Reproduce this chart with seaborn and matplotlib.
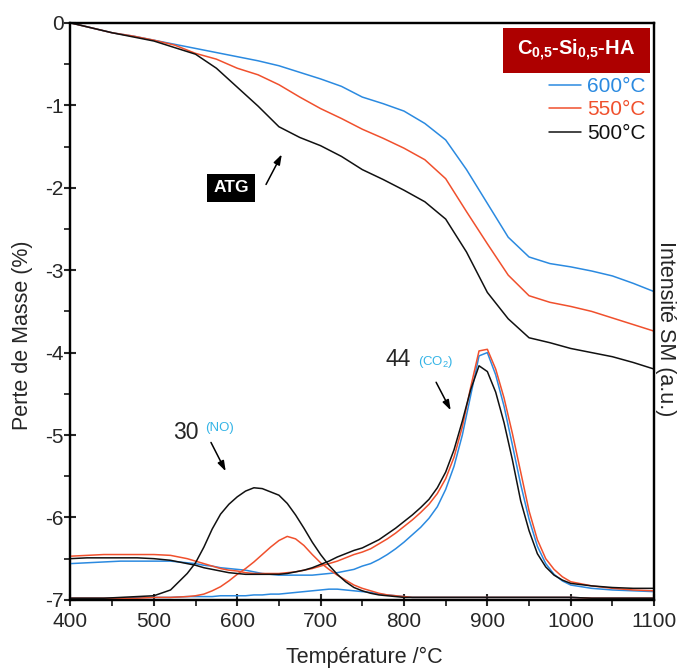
import numpy as np
import pandas as pd
import matplotlib
matplotlib.use("Agg")
import matplotlib.pyplot as plt
import seaborn as sns
from matplotlib.patches import Rectangle
from matplotlib.ticker import MultipleLocator

# data section
tga_temps = list(range(400, 1101, 25))
tga_600 = [0, -0.06, -0.12, -0.16, -0.21, -0.26, -0.31, -0.36, -0.41, -0.46, -0.52, -0.60, -0.68, -0.77,
           -0.90, -0.98, -1.07, -1.22, -1.42, -1.78, -2.19, -2.60, -2.84, -2.92, -2.96, -3.01, -3.07, -3.16, -3.26]
tga_550 = [0, -0.06, -0.12, -0.16, -0.21, -0.27, -0.37, -0.44, -0.55, -0.63, -0.75, -0.90, -1.04, -1.16,
           -1.29, -1.40, -1.52, -1.66, -1.89, -2.29, -2.68, -3.06, -3.31, -3.39, -3.44, -3.50, -3.58, -3.66, -3.74]
tga_500 = [0, -0.06, -0.12, -0.17, -0.22, -0.30, -0.38, -0.55, -0.78, -1.01, -1.26, -1.39, -1.49, -1.62,
           -1.78, -1.90, -2.03, -2.17, -2.38, -2.78, -3.27, -3.59, -3.82, -3.88, -3.95, -4.00, -4.05, -4.12, -4.20]

ms_temps = [400, 420, 440, 460, 480, 500, 520, 540] + list(range(550, 1001, 10)) + [1025, 1050, 1075, 1100]

# m/z 30 (NO), arbitrary units
no_500 = [0.02, 0.02, 0.02, 0.03, 0.04, 0.05, 0.12, 0.32,
          0.45, 0.64, 0.86, 1.04, 1.16, 1.25, 1.32, 1.36, 1.35, 1.31, 1.27, 1.17, 1.03, 0.87, 0.70, 0.55,
          0.42, 0.31, 0.22, 0.15, 0.11, 0.08, 0.06, 0.05, 0.04, 0.03,
          0.03, 0.03, 0.03, 0.03, 0.03, 0.03, 0.03, 0.03, 0.03, 0.03,
          0.03, 0.03, 0.03, 0.03, 0.03, 0.03, 0.03, 0.03, 0.03, 0.03,
          0.02, 0.02, 0.02, 0.02]
no_550 = [0.02, 0.02, 0.02, 0.02, 0.02, 0.03, 0.03, 0.04,
          0.05, 0.07, 0.11, 0.16, 0.23, 0.31, 0.38, 0.46, 0.55, 0.64, 0.72, 0.77, 0.74, 0.66, 0.55, 0.45,
          0.37, 0.30, 0.24, 0.18, 0.14, 0.11, 0.08, 0.06, 0.05, 0.04,
          0.03, 0.03, 0.03, 0.03, 0.03, 0.03, 0.03, 0.03, 0.03, 0.03,
          0.03, 0.03, 0.03, 0.03, 0.03, 0.03, 0.03, 0.03, 0.03, 0.03,
          0.02, 0.02, 0.02, 0.02]
no_600 = [0.02, 0.02, 0.02, 0.02, 0.03, 0.03, 0.03, 0.04,
          0.04, 0.04, 0.04, 0.05, 0.05, 0.05, 0.05, 0.06, 0.06, 0.07, 0.07, 0.08, 0.09, 0.10, 0.11, 0.12,
          0.13, 0.13, 0.12, 0.11, 0.10, 0.09, 0.07, 0.06, 0.05, 0.04,
          0.03, 0.03, 0.03, 0.03, 0.03, 0.03, 0.03, 0.03, 0.03, 0.03,
          0.03, 0.03, 0.03, 0.03, 0.03, 0.03, 0.03, 0.03, 0.03, 0.03,
          0.02, 0.02, 0.02, 0.02]

# m/z 44 (CO2), arbitrary units
co2_500 = [0.50, 0.51, 0.51, 0.51, 0.51, 0.50, 0.48, 0.44,
           0.42, 0.39, 0.37, 0.35, 0.33, 0.32, 0.31, 0.31, 0.31, 0.31, 0.31, 0.32, 0.34, 0.36, 0.39, 0.43,
           0.47, 0.52, 0.56, 0.60, 0.63, 0.68, 0.73, 0.80, 0.87, 0.95,
           1.03, 1.12, 1.22, 1.36, 1.55, 1.82, 2.17, 2.55, 2.84, 2.77,
           2.52, 2.15, 1.70, 1.20, 0.84, 0.56, 0.40, 0.30, 0.24, 0.20,
           0.17, 0.15, 0.14, 0.14]
co2_550 = [0.53, 0.54, 0.55, 0.55, 0.55, 0.55, 0.54, 0.50,
           0.47, 0.44, 0.41, 0.38, 0.36, 0.35, 0.33, 0.32, 0.32, 0.32, 0.32, 0.33, 0.34, 0.36, 0.38, 0.41,
           0.44, 0.47, 0.51, 0.55, 0.58, 0.62, 0.68, 0.74, 0.81, 0.89,
           0.97, 1.06, 1.16, 1.29, 1.47, 1.73, 2.10, 2.58, 3.02, 3.04,
           2.80, 2.45, 2.02, 1.55, 1.08, 0.73, 0.50, 0.37, 0.28, 0.22,
           0.17, 0.14, 0.12, 0.11]
co2_600 = [0.44, 0.45, 0.46, 0.47, 0.47, 0.47, 0.47, 0.45,
           0.44, 0.42, 0.41, 0.39, 0.38, 0.37, 0.36, 0.34, 0.32, 0.31, 0.30, 0.30, 0.30, 0.30, 0.30, 0.31,
           0.32, 0.33, 0.35, 0.37, 0.41, 0.44, 0.49, 0.55, 0.62, 0.70,
           0.79, 0.88, 0.99, 1.13, 1.34, 1.62, 2.00, 2.48, 2.96, 3.00,
           2.73, 2.35, 1.88, 1.40, 0.98, 0.65, 0.44, 0.31, 0.23, 0.18,
           0.14, 0.12, 0.11, 0.10]

labels = ['600°C', '550°C', '500°C']
colors = ['#2b8ae0', '#f0502d', '#111111']

# style section
sns.set_style('ticks')
plt.rcParams['font.family'] = ['Liberation Sans', 'DejaVu Sans']
plt.rcParams['mathtext.fontset'] = 'custom'
plt.rcParams['mathtext.rm'] = 'Liberation Sans'
plt.rcParams['mathtext.bf'] = 'Liberation Sans:bold'
plt.rcParams['axes.unicode_minus'] = False

fig = plt.figure(figsize=(6.81, 6.71), dpi=100)
ax = fig.add_axes([0.1035, 0.106, 0.857, 0.8599])
ax2 = ax.twinx()

tga = [tga_600, tga_550, tga_500]
for vals, lab, col in zip(tga, labels, colors):
    sns.lineplot(x=tga_temps, y=vals, color=col, lw=1.1, label=lab, ax=ax, estimator=None)

ms = [(no_600, co2_600), (no_550, co2_550), (no_500, co2_500)]
for (no, co2), col in zip(ms, colors):
    sns.lineplot(x=ms_temps, y=no, color=col, lw=1.1, ax=ax2, estimator=None, legend=False)
    sns.lineplot(x=ms_temps, y=co2, color=col, lw=1.1, ax=ax2, estimator=None, legend=False)

ax.set_xlim(400, 1100)
ax.set_ylim(-7, 0)
ax2.set_ylim(0, 7)
ax.xaxis.set_major_locator(MultipleLocator(100))
ax.xaxis.set_minor_locator(MultipleLocator(50))
ax.yaxis.set_major_locator(MultipleLocator(1))
ax.yaxis.set_minor_locator(MultipleLocator(0.5))
ax.tick_params(which='major', direction='inout', length=8, width=1.5, labelsize=15)
ax.tick_params(axis='x', which='major', pad=5)
ax.tick_params(axis='y', which='major', pad=1)
ax.tick_params(which='minor', direction='out', length=4, width=1.3)
ax2.set_yticks([])
for a in (ax, ax2):
    for sp in a.spines.values():
        sp.set_linewidth(1.6)
        sp.set_color('black')

ax.set_xlabel('Température /°C', fontsize=15.5)
ax.xaxis.label.set_va('center')
ax.xaxis.set_label_coords(0.504, -0.1005)
ax.set_ylabel('Perte de Masse (%)', fontsize=15.5)
ax.yaxis.label.set_va('center')
ax.yaxis.set_label_coords(-0.083, 0.459)
ax2.set_ylabel('Intensité SM (a.u.)', fontsize=15.5, rotation=270)
ax2.yaxis.label.set_va('center')
ax2.yaxis.set_label_coords(1.02, 0.47)

# legend
leg = ax.legend(loc='upper right', bbox_to_anchor=(0.985, 0.906), frameon=False, fontsize=15,
                borderpad=0, borderaxespad=0, handlelength=1.5, handletextpad=0.3,
                labelspacing=0.21, labelcolor='linecolor')
ax.add_patch(Rectangle((0.741, 0.913), 0.252, 0.078, transform=ax.transAxes,
                       facecolor='#ad0000', edgecolor='none', zorder=5))
ax.text(0.867, 0.952, r'C$_{\mathbf{0{,}5}}$-Si$_{\mathbf{0{,}5}}$-HA', transform=ax.transAxes,
        ha='center', va='center', color='white', fontsize=14.5, fontweight='bold', zorder=6)

# annotations
arrow = dict(arrowstyle='-|>,head_length=0.6,head_width=0.2', color='black', lw=1.1)
ax.annotate('', xy=(655, -1.565), xytext=(633, -1.99), arrowprops=arrow)
ax.text(592.5, -2.00, 'ATG', ha='center', va='center', color='white', fontsize=12.5, fontweight='bold',
        bbox=dict(boxstyle='square,pad=0.38', facecolor='black', edgecolor='none'))

ax.text(538.6, -4.97, '30', ha='center', va='center', fontsize=16.5)
ax.text(561, -4.91, '(NO)', ha='left', va='center', fontsize=9.5, color='#35b4e6')
ax.annotate('', xy=(587.7, -5.47), xytext=(567, -5.06), arrowprops=arrow)

ax.text(793, -4.08, '44', ha='center', va='center', fontsize=16.5)
ax.text(817, -4.12, '(CO$_2$)', ha='left', va='center', fontsize=9.5, color='#35b4e6')
ax.annotate('', xy=(857.6, -4.73), xytext=(837, -4.33), arrowprops=arrow)

fig.savefig('out.png', dpi=100)
